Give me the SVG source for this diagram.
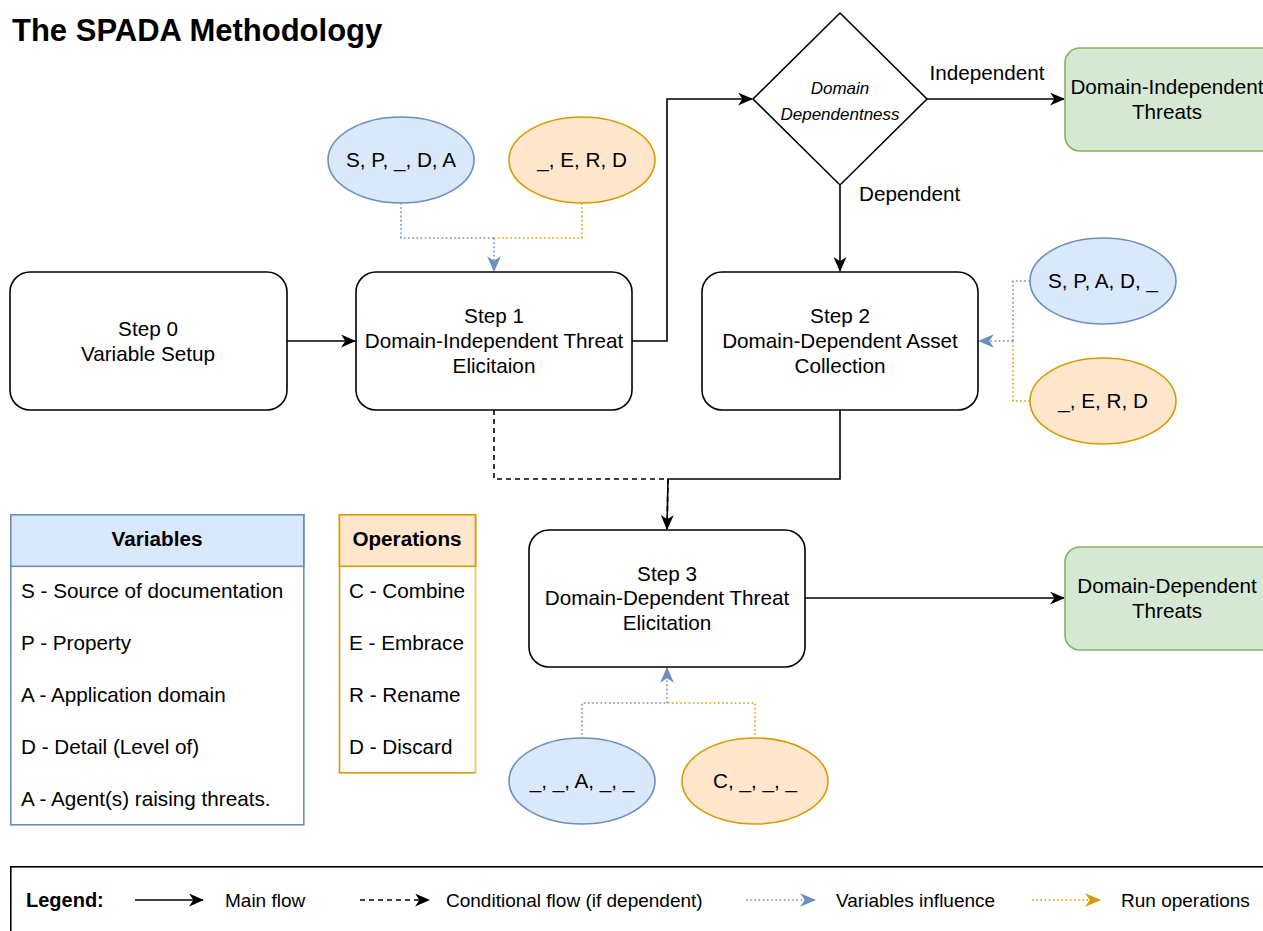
<svg xmlns="http://www.w3.org/2000/svg" width="1263" height="931" viewBox="0 0 1263 931">
<style>
text{font-family:"Liberation Sans",Arial,sans-serif;fill:#000}
.t{font-size:20.7px}
.c{text-anchor:middle}
.b{font-weight:bold}
.box{fill:#fff;stroke:#000;stroke-width:1.6}
.green{fill:#d5e8d4;stroke:#82b366;stroke-width:1.6}
.eb{fill:#dae8fc;stroke:#6c8ebf;stroke-width:1.6}
.eo{fill:#ffe6cc;stroke:#d79b00;stroke-width:1.6}
.main{fill:none;stroke:#000;stroke-width:1.6}
.dash{fill:none;stroke:#000;stroke-width:1.6;stroke-dasharray:5 4}
.vb{fill:none;stroke:#6c8ebf;stroke-width:1.6;stroke-dasharray:1.6 2.6}
.vo{fill:none;stroke:#d79b00;stroke-width:1.6;stroke-dasharray:1.6 2.6}
.lg{font-size:19px}
</style>
<defs>
<marker id="ab" viewBox="0 0 14 12" refX="13" refY="6" markerWidth="15" markerHeight="13" markerUnits="userSpaceOnUse" orient="auto"><path d="M0,0 L14,6 L0,12 L4,6 Z" fill="#000"/></marker>
<marker id="abl" viewBox="0 0 14 12" refX="13" refY="6" markerWidth="16" markerHeight="14" markerUnits="userSpaceOnUse" orient="auto"><path d="M0,0 L14,6 L0,12 L4,6 Z" fill="#6c8ebf"/></marker>
<marker id="aor" viewBox="0 0 14 12" refX="13" refY="6" markerWidth="16" markerHeight="14" markerUnits="userSpaceOnUse" orient="auto"><path d="M0,0 L14,6 L0,12 L4,6 Z" fill="#d79b00"/></marker>
</defs>
<rect width="1263" height="931" fill="#fff"/>
<text x="12" y="41" class="b" style="font-size:31px">The SPADA Methodology</text>

<g id="connectors">
<path class="main" d="M287,341 H355" marker-end="url(#ab)"/>
<path class="main" d="M632,341 H667 V99 H752" marker-end="url(#ab)"/>
<path class="main" d="M927,99 H1064" marker-end="url(#ab)"/>
<path class="main" d="M840,185 V271" marker-end="url(#ab)"/>
<path class="dash" d="M494,410 V479 H668 L667,528"/>
<path class="main" d="M840,410 V479 H668 L667,529" marker-end="url(#ab)"/>
<path class="main" d="M805,598 H1064" marker-end="url(#ab)"/>
<path class="vb" d="M401,203 V238 H494"/>
<path class="vo" d="M582,203 V238 H494"/>
<path class="vb" d="M494,238 V271" marker-end="url(#abl)"/>
<path class="vb" d="M1030,281 H1013 V341"/>
<path class="vo" d="M1030,401 H1013 V341"/>
<path class="vb" d="M1013,341 H979" marker-end="url(#abl)"/>
<path class="vb" d="M582,739 V703 H667"/>
<path class="vo" d="M755,739 V703 H667"/>
<path class="vb" d="M667,703 V668" marker-end="url(#abl)"/>
<text x="987" y="80" class="t c">Independent</text>
<text x="859" y="201" class="t">Dependent</text>
</g>

<g id="step0">
<rect class="box" x="10" y="272" width="277" height="138" rx="20"/>
<text x="148" y="336" class="t c">Step 0</text>
<text x="148" y="361" class="t c">Variable Setup</text>
</g>
<g id="step1">
<rect class="box" x="356" y="272" width="276" height="138" rx="20"/>
<text x="494" y="323" class="t c">Step 1</text>
<text x="494" y="348" class="t c">Domain-Independent Threat</text>
<text x="494" y="373" class="t c">Elicitaion</text>
</g>
<g id="step2">
<rect class="box" x="702" y="272" width="276" height="138" rx="20"/>
<text x="840" y="323" class="t c">Step 2</text>
<text x="840" y="348" class="t c">Domain-Dependent Asset</text>
<text x="840" y="373" class="t c">Collection</text>
</g>
<g id="step3">
<rect class="box" x="529" y="530" width="276" height="137" rx="20"/>
<text x="667" y="581" class="t c">Step 3</text>
<text x="667" y="605" class="t c">Domain-Dependent Threat</text>
<text x="667" y="630" class="t c">Elicitation</text>
</g>
<g id="decision">
<path class="box" d="M840,13 L927,99 L840,185 L753,99 Z"/>
<text x="840" y="94" class="c" style="font-size:17px;font-style:italic">Domain</text>
<text x="840" y="120" class="c" style="font-size:17px;font-style:italic">Dependentness</text>
</g>
<g id="dit">
<rect class="green" x="1065" y="48" width="215" height="103" rx="15"/>
<text x="1167" y="94" class="t c">Domain-Independent</text>
<text x="1167" y="119" class="t c">Threats</text>
</g>
<g id="ddt">
<rect class="green" x="1065" y="547" width="215" height="103" rx="15"/>
<text x="1167" y="593" class="t c">Domain-Dependent</text>
<text x="1167" y="618" class="t c">Threats</text>
</g>

<g id="var1">
<ellipse class="eb" cx="401" cy="160" rx="73" ry="43"/>
<text x="401" y="167" class="t c">S, P, _, D, A</text>
</g>
<g id="op1">
<ellipse class="eo" cx="582" cy="160" rx="73" ry="43"/>
<text x="582" y="167" class="t c">_, E, R, D</text>
</g>
<g id="var2">
<ellipse class="eb" cx="1103" cy="281" rx="73" ry="43"/>
<text x="1103" y="288" class="t c">S, P, A, D, _</text>
</g>
<g id="op2">
<ellipse class="eo" cx="1103" cy="401" rx="73" ry="43"/>
<text x="1103" y="408" class="t c">_, E, R, D</text>
</g>
<g id="var3">
<ellipse class="eb" cx="582" cy="781" rx="73" ry="43"/>
<text x="582" y="788" class="t c">_, _, A, _, _</text>
</g>
<g id="op3">
<ellipse class="eo" cx="755" cy="781" rx="73" ry="43"/>
<text x="755" y="788" class="t c">C, _, _, _</text>
</g>

<g id="variables">
<rect x="10.8" y="514.8" width="293" height="310" fill="#fff" stroke="#6c8ebf" stroke-width="1.6"/>
<rect x="10.8" y="514.8" width="293" height="51.5" fill="#dae8fc" stroke="#6c8ebf" stroke-width="1.6"/>
<text x="157" y="546" class="t c b">Variables</text>
<text x="21" y="598" class="t">S - Source of documentation</text>
<text x="21" y="650" class="t">P - Property</text>
<text x="21" y="702" class="t">A - Application domain</text>
<text x="21" y="754" class="t">D - Detail (Level of)</text>
<text x="21" y="806" class="t">A - Agent(s) raising threats.</text>
</g>
<g id="operations">
<rect x="339.5" y="514.8" width="136" height="258" fill="#fff" stroke="#d79b00" stroke-width="1.6"/>
<path d="M475.5,566.3 V772.8" stroke="#fff" stroke-width="1.2" opacity="0.6"/>
<rect x="339.5" y="514.8" width="136" height="51.5" fill="#ffe6cc" stroke="#d79b00" stroke-width="1.6"/>
<text x="407" y="546" class="t c b">Operations</text>
<text x="349" y="598" class="t">C - Combine</text>
<text x="349" y="650" class="t">E - Embrace</text>
<text x="349" y="702" class="t">R - Rename</text>
<text x="349" y="754" class="t">D - Discard</text>
</g>

<g id="legend">
<rect x="10.8" y="866.8" width="1270" height="80" fill="#fff" stroke="#000" stroke-width="1.6"/>
<text x="26" y="907" class="b" style="font-size:20px">Legend:</text>
<path class="main" d="M135,900 H203" marker-end="url(#ab)"/>
<text x="225" y="907" class="lg">Main flow</text>
<path class="dash" d="M360,900 H429" marker-end="url(#ab)"/>
<text x="446" y="907" class="lg">Conditional flow (if dependent)</text>
<path class="vb" d="M746,900 H815" marker-end="url(#abl)"/>
<text x="836" y="907" class="lg">Variables influence</text>
<path class="vo" d="M1032,900 H1100" marker-end="url(#aor)"/>
<text x="1121" y="907" class="lg">Run operations</text>
</g>
</svg>
